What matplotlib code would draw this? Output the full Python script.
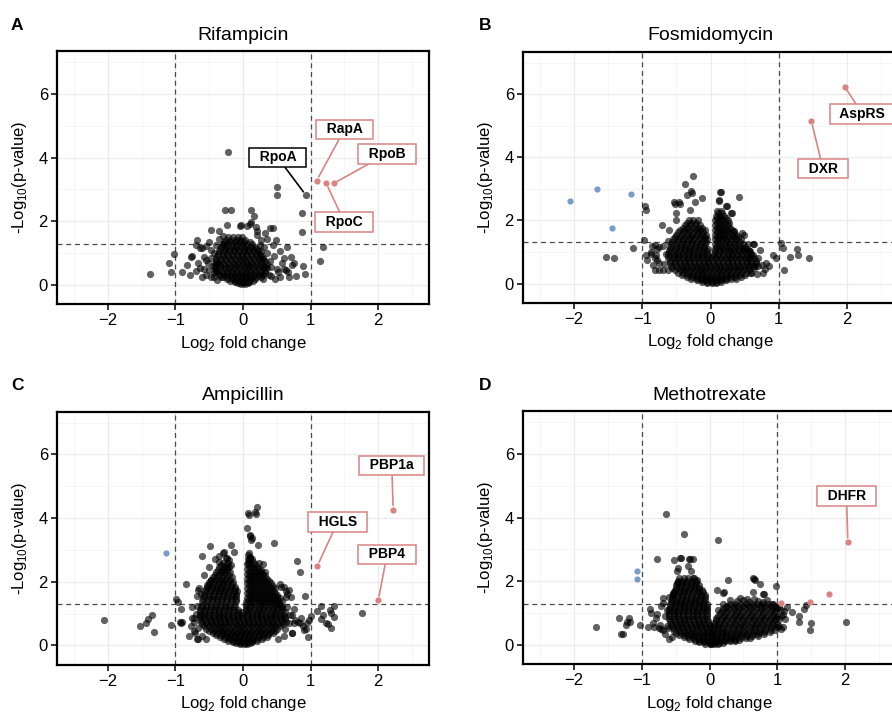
import numpy as np
import matplotlib.pyplot as plt

plt.rcParams['font.family'] = ['Liberation Sans', 'DejaVu Sans']
plt.rcParams['mathtext.fontset'] = 'custom'
plt.rcParams['mathtext.rm'] = 'Liberation Sans'

# ---- data: (log2 fold change, -log10 p) ----
# dense cores, one row per -log10(p) level
rif_core = [
    (1.50, [-0.22, -0.15, -0.08, -0.02]),
    (1.35, [-0.28, -0.20, -0.12, -0.05, 0.02, 0.10]),
    (1.20, [-0.32, -0.25, -0.17, -0.10, -0.03, 0.04, 0.12, 0.18]),
    (1.05, [-0.35, -0.28, -0.20, -0.13, -0.06, 0.01, 0.08, 0.15, 0.22]),
    (0.90, [-0.38, -0.30, -0.22, -0.15, -0.08, -0.01, 0.06, 0.13, 0.20, 0.27]),
    (0.75, [-0.40, -0.32, -0.24, -0.16, -0.09, -0.02, 0.05, 0.12, 0.19, 0.26, 0.33]),
    (0.60, [-0.42, -0.34, -0.26, -0.18, -0.10, -0.03, 0.04, 0.11, 0.18, 0.25, 0.32]),
    (0.45, [-0.40, -0.32, -0.24, -0.17, -0.10, -0.03, 0.04, 0.11, 0.18, 0.25, 0.32]),
    (0.30, [-0.34, -0.26, -0.19, -0.12, -0.05, 0.02, 0.09, 0.16, 0.23, 0.30]),
    (0.18, [-0.24, -0.17, -0.10, -0.03, 0.04, 0.11, 0.18]),
    (0.08, [-0.12, -0.05, 0.02, 0.09]),
    (0.02, [-0.03, 0.03]),
    (1.42, [-0.25, -0.18, -0.11, -0.04, 0.03]),
    (1.27, [-0.30, -0.23, -0.16, -0.09, -0.02, 0.06, 0.14]),
    (1.12, [-0.34, -0.27, -0.20, -0.13, -0.06, 0.01, 0.08, 0.15, 0.21]),
    (0.97, [-0.37, -0.30, -0.23, -0.16, -0.09, -0.02, 0.05, 0.12, 0.19, 0.25]),
    (0.82, [-0.40, -0.33, -0.26, -0.19, -0.12, -0.05, 0.02, 0.09, 0.16, 0.23, 0.30]),
    (0.67, [-0.42, -0.35, -0.28, -0.21, -0.14, -0.07, 0.00, 0.07, 0.14, 0.21, 0.28, 0.35]),
    (0.52, [-0.41, -0.34, -0.27, -0.20, -0.13, -0.06, 0.01, 0.08, 0.15, 0.22, 0.29, 0.36]),
    (0.37, [-0.37, -0.30, -0.23, -0.16, -0.09, -0.02, 0.05, 0.12, 0.19, 0.26, 0.33]),
    (0.24, [-0.30, -0.23, -0.16, -0.09, -0.02, 0.05, 0.12, 0.19, 0.26]),
    (0.13, [-0.19, -0.12, -0.05, 0.02, 0.09, 0.15]),
    (0.05, [-0.08, 0.00, 0.07]),
]
rif_pts = [
    (-1.37, 0.35), (-1.10, 0.68), (-1.02, 0.96), (-1.06, 0.42), (-0.90, 0.39), (-0.83, 0.63),
    (-0.77, 0.89), (-0.78, 0.31), (-0.68, 1.41), (-0.70, 1.26), (-0.60, 1.15), (-0.63, 0.52),
    (-0.60, 0.26), (-0.50, 1.36), (-0.48, 1.73), (-0.36, 1.70), (-0.23, 1.87), (-0.26, 2.34),
    (-0.18, 2.34), (-0.22, 4.17), (-0.04, 1.85), (0.06, 1.85), (0.12, 2.34), (0.16, 2.18),
    (0.12, 1.99), (0.19, 1.83), (0.40, 1.80), (0.45, 1.80), (0.49, 1.41), (0.51, 3.09),
    (0.50, 2.81), (0.93, 2.82), (0.87, 2.27), (0.87, 1.66), (0.65, 1.18), (0.31, 1.20),
    (0.36, 1.43), (0.46, 0.91), (0.61, 0.83), (0.71, 0.87), (0.76, 0.68), (0.88, 0.58),
    (0.91, 0.35), (0.78, 0.29), (0.63, 0.47), (0.51, 0.49), (0.58, 0.68), (1.18, 1.20),
    (1.14, 0.75), (0.32, 1.62), (0.26, 1.41), (0.21, 1.57), (-0.38, 0.68), (-0.43, 1.00),
    (-0.43, 0.37), (-0.33, 0.26), (-0.50, 0.47), (-0.58, 0.89), (-0.63, 1.15), (-0.76, 0.90),
    (-0.55, 0.79), (-0.58, 0.50), (-0.43, 0.26), (-0.55, 1.22), (-0.47, 1.10), (-0.40, 1.25),
    (-0.35, 1.45), (-0.52, 0.70), (-0.45, 0.60), (-0.48, 0.85), (-0.40, 0.45), (-0.55, 0.30),
    (-0.47, 0.25), (-0.66, 0.70), (-0.70, 0.45), (-0.38, 0.15), (-0.30, 1.55), (-0.30, 1.30),
    (0.35, 1.00), (0.40, 0.75), (0.33, 0.55), (0.42, 0.55), (0.38, 0.30), (0.47, 0.20),
    (0.55, 0.25), (0.68, 0.25), (0.30, 0.85), (0.25, 1.25), (0.45, 1.25), (0.55, 1.05),
    (0.72, 0.62), (0.20, 1.70), (0.27, 1.05), (0.30, 0.20), (-0.03, 1.87), (0.11, 1.92),
    (0.60, 0.50), (0.67, 0.40), (0.52, 0.40), (0.42, 0.29),
    (1.09, 3.28), (1.34, 3.19), (1.23, 3.19),
]

fos_core = [
    (2.00, [-0.32, -0.25, -0.18]),
    (1.85, [-0.38, -0.30, -0.23, -0.15]),
    (1.70, [-0.45, -0.37, -0.30, -0.22, -0.15, -0.08]),
    (1.55, [-0.50, -0.42, -0.35, -0.27, -0.20, -0.12, -0.06]),
    (1.40, [-0.55, -0.47, -0.40, -0.32, -0.25, -0.17, -0.10, -0.05]),
    (2.30, [0.10, 0.16]),
    (2.15, [0.08, 0.14, 0.20]),
    (2.00, [0.07, 0.13, 0.19, 0.25]),
    (1.85, [0.06, 0.12, 0.18, 0.25]),
    (1.70, [0.06, 0.12, 0.18, 0.24, 0.31]),
    (1.55, [0.06, 0.12, 0.18, 0.24, 0.31, 0.38]),
    (1.40, [0.06, 0.11, 0.17, 0.23, 0.30, 0.37, 0.44]),
    (1.25, [-0.58, -0.50, -0.43, -0.36, -0.29, -0.22, -0.15, -0.08, 0.07, 0.13, 0.20, 0.27,
            0.34, 0.41, 0.48]),
    (1.10, [-0.60, -0.52, -0.45, -0.38, -0.31, -0.24, -0.17, -0.10, -0.04, 0.06, 0.12, 0.19,
            0.26, 0.33, 0.40, 0.47, 0.54]),
    (0.95, [-0.62, -0.54, -0.47, -0.40, -0.33, -0.26, -0.19, -0.12, -0.05, 0.05, 0.11, 0.18,
            0.25, 0.32, 0.39, 0.46, 0.53, 0.60]),
    (0.80, [-0.62, -0.54, -0.47, -0.40, -0.33, -0.26, -0.19, -0.12, -0.05, 0.01, 0.08, 0.15,
            0.22, 0.29, 0.36, 0.43, 0.50, 0.57, 0.64]),
    (0.65, [-0.60, -0.52, -0.45, -0.38, -0.31, -0.24, -0.17, -0.10, -0.03, 0.04, 0.11, 0.18,
            0.25, 0.32, 0.39, 0.46, 0.53, 0.60, 0.67]),
    (0.50, [-0.56, -0.48, -0.41, -0.34, -0.27, -0.20, -0.13, -0.06, 0.01, 0.08, 0.15, 0.22,
            0.29, 0.36, 0.43, 0.50, 0.57, 0.64]),
    (0.35, [-0.48, -0.40, -0.33, -0.26, -0.19, -0.12, -0.05, 0.02, 0.09, 0.16, 0.23, 0.30,
            0.37, 0.44, 0.52, 0.60]),
    (0.22, [-0.35, -0.27, -0.20, -0.13, -0.06, 0.01, 0.08, 0.15, 0.22, 0.29, 0.36, 0.44]),
    (0.10, [-0.20, -0.13, -0.06, 0.01, 0.08, 0.15, 0.22]),
    (0.02, [-0.05, 0.02, 0.08]),
    (1.92, [-0.35, -0.28, -0.21]),
    (1.77, [-0.41, -0.34, -0.26, -0.19, -0.12]),
    (1.62, [-0.47, -0.40, -0.33, -0.26, -0.18, -0.11]),
    (1.47, [-0.52, -0.45, -0.38, -0.30, -0.23, -0.15, -0.08]),
    (2.22, [0.11, 0.17]),
    (2.07, [0.10, 0.16, 0.22]),
    (1.92, [0.09, 0.15, 0.21, 0.27]),
    (1.77, [0.09, 0.15, 0.21, 0.28]),
    (1.62, [0.09, 0.15, 0.21, 0.27, 0.34]),
    (1.47, [0.09, 0.14, 0.20, 0.27, 0.34, 0.41]),
    (1.32, [-0.56, -0.48, -0.41, -0.34, -0.27, -0.20, -0.13, -0.07, 0.09, 0.15, 0.22, 0.29,
            0.36, 0.43]),
    (1.17, [-0.59, -0.51, -0.44, -0.37, -0.30, -0.23, -0.16, -0.09, 0.08, 0.15, 0.22, 0.29,
            0.36, 0.43, 0.50]),
    (1.02, [-0.61, -0.53, -0.46, -0.39, -0.32, -0.25, -0.18, -0.11, -0.05, 0.07, 0.14, 0.21,
            0.28, 0.35, 0.42, 0.49, 0.56]),
    (0.87, [-0.61, -0.53, -0.46, -0.39, -0.32, -0.25, -0.18, -0.11, -0.04, 0.04, 0.11, 0.18,
            0.25, 0.32, 0.39, 0.46, 0.53, 0.60]),
    (0.72, [-0.60, -0.52, -0.45, -0.38, -0.31, -0.24, -0.17, -0.10, -0.03, 0.04, 0.11, 0.18,
            0.25, 0.32, 0.39, 0.46, 0.53, 0.60, 0.66]),
    (0.57, [-0.58, -0.50, -0.43, -0.36, -0.29, -0.22, -0.15, -0.08, -0.01, 0.06, 0.13, 0.20,
            0.27, 0.34, 0.41, 0.48, 0.55, 0.62]),
    (0.42, [-0.52, -0.44, -0.37, -0.30, -0.23, -0.16, -0.09, -0.02, 0.05, 0.12, 0.19, 0.26,
            0.33, 0.40, 0.48, 0.56]),
    (0.28, [-0.42, -0.34, -0.27, -0.20, -0.13, -0.06, 0.01, 0.08, 0.15, 0.22, 0.29, 0.36,
            0.43, 0.50]),
    (0.16, [-0.28, -0.20, -0.13, -0.06, 0.01, 0.08, 0.15, 0.22, 0.30, 0.38]),
    (0.06, [-0.12, -0.05, 0.02, 0.09, 0.15]),
]
fos_pts = [
    (-2.06, 2.61), (-1.67, 3.00), (-1.16, 2.85), (-1.44, 1.77),
    (1.97, 6.23), (1.48, 5.14),
    (-1.54, 0.84), (-1.42, 0.81), (-1.13, 1.13), (-0.96, 2.45), (-0.95, 2.32), (-0.98, 1.39),
    (-0.94, 0.92), (-0.93, 0.76), (-0.81, 0.42), (-0.69, 0.42), (-0.82, 0.81), (-0.71, 1.85),
    (-0.76, 1.16), (-0.86, 1.20), (-0.52, 2.51), (-0.45, 2.51), (-0.38, 3.16), (-0.25, 3.42),
    (-0.28, 2.92), (-0.27, 2.87), (-0.34, 2.82), (-0.13, 2.71), (-0.23, 2.57), (0.14, 2.89),
    (0.12, 2.63), (0.22, 2.45), (0.30, 2.24), (0.42, 2.74), (0.49, 1.55), (0.64, 1.26),
    (0.57, 1.02), (0.69, 0.55), (0.77, 0.32), (0.86, 0.55), (0.91, 0.92), (0.96, 0.81),
    (1.03, 1.28), (1.06, 1.13), (1.08, 0.42), (1.16, 0.84), (1.27, 1.10), (1.29, 0.89),
    (1.44, 0.81), (0.82, 0.65), (-0.54, 2.57), (-0.46, 2.57), (-0.51, 2.24), (-0.30, 2.32),
    (-0.50, 2.00), (-0.61, 1.71), (-0.78, 1.08), (-0.82, 1.22), (-0.87, 0.93), (-0.78, 0.76),
    (-0.75, 0.44), (-0.63, 0.44), (0.15, 2.90), (0.13, 2.64), (0.24, 2.45), (0.31, 2.24),
    (0.34, 1.67), (0.46, 1.60), (0.48, 1.11), (0.58, 1.02), (0.63, 1.26),
    (-0.88, 1.00), (-0.80, 0.90), (-0.75, 0.65), (-0.70, 1.20), (-0.66, 0.95), (-0.62, 1.35),
    (-0.68, 0.62), (-0.85, 0.60), (0.62, 0.90), (0.70, 0.80), (0.75, 0.60), (0.60, 0.35),
    (0.68, 0.30), (0.55, 1.25), (0.72, 1.05), (0.80, 0.45), (0.65, 0.55),
]

amp_core = [
    (2.60, [-0.30, -0.22]),
    (2.45, [-0.35, -0.28, -0.20]),
    (2.30, [-0.40, -0.33, -0.26, -0.19]),
    (2.15, [-0.45, -0.38, -0.31, -0.24, -0.17]),
    (2.00, [-0.50, -0.43, -0.36, -0.29, -0.22, -0.15]),
    (1.85, [-0.53, -0.46, -0.39, -0.32, -0.25, -0.18, -0.12]),
    (1.70, [-0.56, -0.49, -0.42, -0.35, -0.28, -0.21, -0.14, -0.09]),
    (1.55, [-0.58, -0.51, -0.44, -0.37, -0.30, -0.23, -0.16, -0.10]),
    (1.40, [-0.60, -0.53, -0.46, -0.39, -0.32, -0.25, -0.18, -0.11]),
    (2.85, [0.08]),
    (2.70, [0.07, 0.13]),
    (2.55, [0.06, 0.12, 0.18]),
    (2.40, [0.06, 0.12, 0.18, 0.24]),
    (2.25, [0.06, 0.12, 0.18, 0.24, 0.30]),
    (2.10, [0.06, 0.12, 0.18, 0.24, 0.30, 0.36]),
    (1.95, [0.06, 0.12, 0.18, 0.24, 0.30, 0.36, 0.42]),
    (1.80, [0.06, 0.12, 0.18, 0.24, 0.30, 0.36, 0.42, 0.48]),
    (1.65, [0.06, 0.12, 0.18, 0.24, 0.30, 0.36, 0.42, 0.48]),
    (1.50, [0.06, 0.12, 0.18, 0.24, 0.30, 0.36, 0.42, 0.48, 0.54]),
    (1.35, [0.05, 0.11, 0.17, 0.23, 0.29, 0.35, 0.41, 0.47, 0.53]),
    (1.20, [-0.62, -0.55, -0.48, -0.41, -0.34, -0.27, -0.20, -0.13, 0.05, 0.09, 0.16,
            0.23, 0.30, 0.37, 0.44, 0.51, 0.58]),
    (1.05, [-0.64, -0.57, -0.50, -0.43, -0.36, -0.29, -0.22, -0.15, -0.08, -0.01, 0.06, 0.13,
            0.20, 0.27, 0.34, 0.41, 0.48, 0.55, 0.62]),
    (0.90, [-0.64, -0.57, -0.50, -0.43, -0.36, -0.29, -0.22, -0.15, -0.08, -0.01, 0.06, 0.13,
            0.20, 0.27, 0.34, 0.41, 0.48, 0.55, 0.62]),
    (0.75, [-0.62, -0.55, -0.48, -0.41, -0.34, -0.27, -0.20, -0.13, -0.06, 0.01, 0.08, 0.15,
            0.22, 0.29, 0.36, 0.43, 0.50, 0.57, 0.64]),
    (0.60, [-0.57, -0.50, -0.43, -0.36, -0.29, -0.22, -0.15, -0.08, -0.01, 0.06, 0.13, 0.20,
            0.27, 0.34, 0.41, 0.48, 0.55]),
    (0.45, [-0.50, -0.43, -0.36, -0.29, -0.22, -0.15, -0.08, -0.01, 0.06, 0.13, 0.20, 0.27,
            0.34, 0.41, 0.48]),
    (0.32, [-0.40, -0.33, -0.26, -0.19, -0.12, -0.05, 0.02, 0.09, 0.16, 0.23, 0.30, 0.37]),
    (0.20, [-0.28, -0.21, -0.14, -0.07, 0.00, 0.07, 0.14, 0.21, 0.28]),
    (0.10, [-0.15, -0.08, -0.01, 0.06, 0.13]),
    (0.03, [-0.05, 0.01, 0.06]),
    (2.52, [-0.32, -0.25]),
    (2.37, [-0.37, -0.30, -0.23]),
    (2.22, [-0.42, -0.35, -0.28, -0.21]),
    (2.07, [-0.47, -0.40, -0.33, -0.26, -0.19]),
    (1.92, [-0.51, -0.44, -0.37, -0.30, -0.23, -0.16]),
    (1.77, [-0.54, -0.47, -0.40, -0.33, -0.26, -0.19, -0.12]),
    (1.62, [-0.57, -0.50, -0.43, -0.36, -0.29, -0.22, -0.15, -0.10]),
    (1.47, [-0.59, -0.52, -0.45, -0.38, -0.31, -0.24, -0.17, -0.10]),
    (2.77, [0.10]),
    (2.62, [0.09, 0.15]),
    (2.47, [0.09, 0.15, 0.21]),
    (2.32, [0.09, 0.15, 0.21, 0.27]),
    (2.17, [0.09, 0.15, 0.21, 0.27, 0.33]),
    (2.02, [0.09, 0.15, 0.21, 0.27, 0.33, 0.39]),
    (1.87, [0.09, 0.15, 0.21, 0.27, 0.33, 0.39, 0.45]),
    (1.72, [0.09, 0.15, 0.21, 0.27, 0.33, 0.39, 0.45]),
    (1.57, [0.09, 0.15, 0.21, 0.27, 0.33, 0.39, 0.45, 0.51]),
    (1.42, [0.08, 0.14, 0.20, 0.26, 0.32, 0.38, 0.44, 0.50]),
    (1.27, [-0.61, -0.54, -0.47, -0.40, -0.33, -0.26, -0.19, -0.12, 0.05, 0.12, 0.19, 0.26,
            0.33, 0.40, 0.47, 0.54]),
    (1.12, [-0.63, -0.56, -0.49, -0.42, -0.35, -0.28, -0.21, -0.14, -0.07, 0.04, 0.09, 0.16,
            0.23, 0.30, 0.37, 0.44, 0.51, 0.58]),
    (0.97, [-0.64, -0.57, -0.50, -0.43, -0.36, -0.29, -0.22, -0.15, -0.08, -0.01, 0.06, 0.13,
            0.20, 0.27, 0.34, 0.41, 0.48, 0.55, 0.61]),
    (0.82, [-0.63, -0.56, -0.49, -0.42, -0.35, -0.28, -0.21, -0.14, -0.07, 0.00, 0.07, 0.14,
            0.21, 0.28, 0.35, 0.42, 0.49, 0.56, 0.62]),
    (0.67, [-0.60, -0.53, -0.46, -0.39, -0.32, -0.25, -0.18, -0.11, -0.04, 0.03, 0.10, 0.17,
            0.24, 0.31, 0.38, 0.45, 0.52, 0.59]),
    (0.52, [-0.54, -0.47, -0.40, -0.33, -0.26, -0.19, -0.12, -0.05, 0.02, 0.09, 0.16, 0.23,
            0.30, 0.37, 0.44, 0.51]),
    (0.38, [-0.45, -0.38, -0.31, -0.24, -0.17, -0.10, -0.03, 0.04, 0.11, 0.18, 0.25, 0.32,
            0.39, 0.45]),
    (0.26, [-0.34, -0.27, -0.20, -0.13, -0.06, 0.01, 0.08, 0.15, 0.22, 0.29, 0.35]),
    (0.15, [-0.22, -0.15, -0.08, -0.01, 0.06, 0.13, 0.20]),
    (0.06, [-0.10, -0.03, 0.04, 0.10]),
]
amp_pts = [
    (2.22, 4.27), (1.10, 2.50), (2.00, 1.42), (-1.14, 2.91),
    (-2.06, 0.81), (-1.53, 0.61), (-1.44, 0.71), (-1.40, 0.84), (-1.35, 0.94), (-1.32, 0.42),
    (-1.07, 0.64), (-0.99, 1.45), (-0.96, 1.35), (-0.93, 0.72), (-0.90, 0.75), (-0.91, 1.13),
    (-0.85, 1.94), (-0.75, 0.87), (-0.77, 0.60), (-0.72, 0.45), (-0.68, 0.20), (-0.65, 1.80),
    (-0.60, 2.82), (-0.49, 3.13), (-0.36, 2.61), (-0.28, 2.92), (-0.24, 2.75), (-0.18, 3.14),
    (-0.13, 2.95), (0.21, 4.34), (0.09, 4.09), (0.19, 4.12), (0.06, 3.68), (0.10, 3.44),
    (0.12, 3.31), (0.22, 3.15), (0.46, 3.21), (0.09, 2.90), (0.09, 2.73), (0.29, 2.57),
    (0.80, 2.64), (0.84, 2.30), (0.92, 1.54), (0.56, 1.83), (0.63, 1.70), (0.71, 1.51),
    (0.75, 1.15), (0.76, 0.71), (0.88, 0.60), (0.93, 0.50), (1.18, 0.97), (1.23, 0.71),
    (1.30, 0.55), (1.35, 1.23), (1.35, 0.90), (1.28, 1.12), (1.76, 1.02), (0.96, 0.26),
    (0.98, 0.80), (0.95, 0.70), (0.86, 0.86), (0.82, 0.72),
    (-0.30, 2.89), (-0.25, 2.74), (-0.20, 2.68), (-0.31, 2.34), (-0.23, 2.42), (-0.18, 2.52),
    (-0.66, 1.75), (-0.68, 1.54), (-0.48, 2.07), (-0.53, 1.91), (-0.92, 0.71), (-0.73, 0.87),
    (-0.71, 0.40), (-0.66, 0.20), (0.11, 3.48), (0.14, 3.38), (0.08, 4.15), (0.18, 4.20),
    (0.11, 2.74), (0.08, 2.58), (0.24, 2.58), (0.27, 2.37), (0.32, 2.32), (0.55, 1.94),
    (0.60, 1.84), (0.65, 1.63), (0.63, 1.52), (0.68, 1.73), (0.50, 1.52), (0.52, 1.31),
    (0.58, 1.21), (0.73, 0.95), (0.77, 0.80), (0.85, 0.70), (0.90, 0.49), (0.73, 0.39),
    (1.00, 0.92), (1.10, 1.08), (1.15, 1.23), (1.15, 0.82), (1.25, 0.66), (1.30, 1.03),
    (-0.80, 0.30), (-0.70, 1.00), (-0.68, 1.25), (-0.72, 0.75), (-0.66, 0.55), (-0.60, 0.30),
    (-0.55, 0.20), (-0.75, 1.20), (0.65, 1.20), (0.70, 0.95), (0.62, 0.50), (0.68, 0.70),
    (0.60, 0.30), (0.52, 0.20), (0.72, 0.40), (0.58, 1.40), (-0.62, 1.60), (-0.57, 2.20),
    (-0.50, 2.45), (-0.42, 2.70), (-0.35, 2.80),
]

mtx_core = [
    (2.10, [-0.45, -0.38, -0.31, -0.24]),
    (1.95, [-0.48, -0.41, -0.34, -0.27, -0.20]),
    (1.80, [-0.50, -0.43, -0.36, -0.29, -0.22, -0.15]),
    (1.65, [-0.52, -0.45, -0.38, -0.31, -0.24, -0.17, -0.10]),
    (1.50, [-0.55, -0.48, -0.41, -0.34, -0.27, -0.20, -0.13, -0.07]),
    (1.35, [-0.57, -0.50, -0.43, -0.36, -0.29, -0.22, -0.15, -0.08]),
    (1.20, [-0.58, -0.51, -0.44, -0.37, -0.30, -0.23, -0.16, -0.09, -0.03]),
    (1.05, [-0.60, -0.53, -0.46, -0.39, -0.32, -0.25, -0.18, -0.11, -0.04]),
    (0.90, [-0.60, -0.53, -0.46, -0.39, -0.32, -0.25, -0.18, -0.11, -0.04]),
    (0.75, [-0.58, -0.51, -0.44, -0.37, -0.30, -0.23, -0.16, -0.09, -0.02]),
    (0.60, [-0.55, -0.48, -0.41, -0.34, -0.27, -0.20, -0.13, -0.06, 0.00]),
    (0.45, [-0.52, -0.45, -0.38, -0.31, -0.24, -0.17, -0.10, -0.03]),
    (0.30, [-0.45, -0.38, -0.31, -0.24, -0.17, -0.10, -0.03]),
    (0.18, [-0.30, -0.23, -0.16, -0.09, -0.02]),
    (0.08, [-0.15, -0.08, -0.01]),
    (2.02, [-0.47, -0.40, -0.33, -0.26, -0.20]),
    (1.87, [-0.49, -0.42, -0.35, -0.28, -0.21, -0.16]),
    (1.72, [-0.51, -0.44, -0.37, -0.30, -0.23, -0.16, -0.11]),
    (1.57, [-0.54, -0.47, -0.40, -0.33, -0.26, -0.19, -0.12, -0.07]),
    (1.42, [-0.56, -0.49, -0.42, -0.35, -0.28, -0.21, -0.14, -0.07]),
    (1.27, [-0.58, -0.51, -0.44, -0.37, -0.30, -0.23, -0.16, -0.09, -0.04]),
    (1.12, [-0.59, -0.52, -0.45, -0.38, -0.31, -0.24, -0.17, -0.10, -0.04]),
    (0.97, [-0.60, -0.53, -0.46, -0.39, -0.32, -0.25, -0.18, -0.11, -0.04]),
    (0.82, [-0.59, -0.52, -0.45, -0.38, -0.31, -0.24, -0.17, -0.10, -0.03]),
    (0.67, [-0.57, -0.50, -0.43, -0.36, -0.29, -0.22, -0.15, -0.08, -0.01]),
    (0.52, [-0.54, -0.47, -0.40, -0.33, -0.26, -0.19, -0.12, -0.05, 0.01]),
    (0.37, [-0.49, -0.42, -0.35, -0.28, -0.21, -0.14, -0.07, 0.00]),
    (0.24, [-0.38, -0.31, -0.24, -0.17, -0.10, -0.03]),
    (0.13, [-0.22, -0.15, -0.08, -0.01]),
    (0.03, [-0.06, 0.00]),
    (1.30, [0.30, 0.38, 0.46, 0.54, 0.62, 0.70, 0.78, 0.86, 0.94]),
    (1.15, [0.20, 0.28, 0.36, 0.44, 0.52, 0.60, 0.68, 0.76, 0.84, 0.92, 0.99]),
    (1.00, [0.15, 0.23, 0.31, 0.39, 0.47, 0.55, 0.63, 0.71, 0.79, 0.87, 0.95]),
    (0.85, [0.10, 0.18, 0.26, 0.34, 0.42, 0.50, 0.58, 0.66, 0.74, 0.82, 0.90, 0.98]),
    (0.70, [0.07, 0.14, 0.22, 0.30, 0.38, 0.46, 0.54, 0.62, 0.70, 0.78, 0.86, 0.94]),
    (0.55, [0.05, 0.12, 0.19, 0.27, 0.35, 0.43, 0.51, 0.59, 0.67, 0.75, 0.83, 0.91, 0.99]),
    (0.40, [0.04, 0.11, 0.18, 0.25, 0.33, 0.41, 0.49, 0.57, 0.65, 0.73, 0.81, 0.89]),
    (0.28, [0.03, 0.10, 0.17, 0.24, 0.31, 0.39, 0.47, 0.55, 0.63, 0.71]),
    (0.16, [0.03, 0.09, 0.16, 0.23, 0.30, 0.37, 0.44]),
    (0.06, [0.02, 0.08, 0.14, 0.20]),
    (1.22, [0.26, 0.34, 0.42, 0.50, 0.58, 0.66, 0.74, 0.82, 0.90, 0.97]),
    (1.07, [0.18, 0.26, 0.34, 0.42, 0.50, 0.58, 0.66, 0.74, 0.82, 0.90, 0.98]),
    (0.92, [0.13, 0.21, 0.29, 0.37, 0.45, 0.53, 0.61, 0.69, 0.77, 0.85, 0.93, 1.00]),
    (0.77, [0.09, 0.17, 0.25, 0.33, 0.41, 0.49, 0.57, 0.65, 0.73, 0.81, 0.89, 0.97]),
    (0.62, [0.06, 0.13, 0.21, 0.29, 0.37, 0.45, 0.53, 0.61, 0.69, 0.77, 0.85, 0.93]),
    (0.47, [0.05, 0.12, 0.19, 0.26, 0.34, 0.42, 0.50, 0.58, 0.66, 0.74, 0.82, 0.90, 0.96]),
    (0.34, [0.04, 0.11, 0.18, 0.25, 0.32, 0.40, 0.48, 0.56, 0.64, 0.72, 0.80]),
    (0.22, [0.03, 0.10, 0.17, 0.24, 0.31, 0.38, 0.46, 0.54, 0.60]),
    (0.11, [0.03, 0.09, 0.16, 0.23, 0.30, 0.37]),
    (0.03, [0.02, 0.07, 0.12]),
]
mtx_pts = [
    (2.04, 3.23), (1.76, 1.59), (1.48, 1.36), (1.06, 1.33), (-1.07, 2.32), (-1.07, 2.08),
    (-0.64, 4.12), (-0.37, 3.47), (0.12, 3.31), (-0.78, 2.69), (-0.52, 2.66), (-0.42, 2.72),
    (-0.47, 2.42), (-0.30, 2.69), (-0.24, 2.69), (0.27, 2.03), (0.64, 2.11), (0.67, 2.04),
    (0.74, 1.90), (0.81, 1.61), (0.98, 1.85), (0.11, 1.72), (0.20, 1.62), (-1.67, 0.56),
    (-1.33, 0.84), (-1.21, 0.73), (-1.23, 0.63), (-1.30, 0.34), (-1.28, 0.34), (-1.03, 0.63),
    (-0.90, 0.57), (-0.86, 1.01), (-0.79, 0.83), (-0.82, 0.55), (-0.75, 0.52), (-0.69, 0.47),
    (-0.69, 1.33), (-0.54, 1.59), (2.02, 0.73), (1.48, 0.46), (1.50, 0.70), (1.32, 0.91),
    (1.32, 0.73), (1.21, 1.02), (1.40, 1.14), (1.43, 1.24), (0.99, 0.65), (1.05, 1.10),
    (1.08, 0.95), (1.03, 0.80), (1.06, 0.50), (1.15, 1.20),
    (-0.43, 2.72), (-0.48, 2.31), (-0.29, 2.69), (-0.32, 2.47), (-0.28, 2.31), (-0.23, 2.10),
    (-0.18, 2.05), (-0.47, 1.99), (0.21, 1.67), (0.65, 2.07), (0.64, 1.66), (0.79, 1.61),
    (0.79, 1.35), (0.45, 1.48), (0.55, 1.44), (-0.88, 1.12), (-0.78, 0.96), (-0.71, 1.22),
    (-0.68, 1.48), (-0.54, 1.64), (-1.19, 0.84), (-1.17, 0.72), (-0.83, 0.70), (-0.73, 0.64),
    (-0.61, 0.54), (-0.71, 0.49),
    (0.30, 1.40), (0.40, 1.38), (0.50, 1.42), (0.58, 1.36), (0.65, 1.45), (0.72, 1.38),
    (0.85, 1.42), (0.92, 1.30), (0.97, 1.20), (0.20, 1.30), (0.25, 1.20), (0.12, 1.10),
    (-0.65, 0.35), (-0.60, 0.20), (-0.55, 0.25), (-0.62, 0.60), (-0.65, 0.90), (-0.63, 1.10),
    (-0.60, 1.50), (1.02, 1.20), (1.05, 0.90), (1.10, 1.05), (1.12, 0.80), (1.02, 0.60),
    (1.08, 0.55),
]

# labelled proteins: (name, lfc, -log10 p, label x, label y)
rif_labels = [('RapA', 1.09, 3.28, 1.50, 4.89), ('RpoB', 1.34, 3.19, 2.13, 4.12),
              ('RpoC', 1.23, 3.19, 1.50, 1.97), ('RpoA', 0.93, 2.82, 0.51, 4.01)]
fos_labels = [('AspRS', 1.97, 6.23, 2.23, 5.37), ('DXR', 1.48, 5.14, 1.65, 3.64)]
amp_labels = [('PBP1a', 2.22, 4.27, 2.20, 5.66), ('HGLS', 1.10, 2.50, 1.40, 3.88),
              ('PBP4', 2.00, 1.42, 2.13, 2.86)]
mtx_labels = [('DHFR', 2.04, 3.23, 2.02, 4.68)]

fc_cut = 1.0
p_cut = 0.05

grey = 'black'
red = '#D98383'
blue = '#7B9CC8'

W, H = 892, 717
fig = plt.figure(figsize=(W / 100, H / 100), dpi=100)

# axes boxes in pixels: left, top, right, bottom
panels = [
    ('A', 'Rifampicin', rif_core, rif_pts, rif_labels, (57, 51, 429, 304)),
    ('B', 'Fosmidomycin', fos_core, fos_pts, fos_labels, (523, 51.5, 898, 302.5)),
    ('C', 'Ampicillin', amp_core, amp_pts, amp_labels, (57, 411.5, 429, 664.5)),
    ('D', 'Methotrexate', mtx_core, mtx_pts, mtx_labels, (523, 411, 896, 664)),
]

p_line = -np.log10(p_cut)

for letter, title, core, pts, labels, (l, t, r, b) in panels:
    ax = fig.add_axes([l / W, 1 - b / H, (r - l) / W, (b - t) / H])

    lfc = [x for y, xs in core for x in xs] + [p[0] for p in pts]
    nlp = [y for y, xs in core for x in xs] + [p[1] for p in pts]
    lfc = np.array(lfc)
    nlp = np.array(nlp)
    up = (lfc > fc_cut) & (nlp > p_line)
    down = (lfc < -fc_cut) & (nlp > p_line)
    ns = ~(up | down)

    ax.scatter(lfc[ns], nlp[ns], s=27, color=grey, alpha=0.62, lw=0, zorder=3)
    ax.scatter(lfc[up], nlp[up], s=20, color=red, lw=0, zorder=4)
    ax.scatter(lfc[down], nlp[down], s=20, color=blue, lw=0, zorder=4)

    for v in (-fc_cut, fc_cut):
        ax.axvline(v, color='#4A4A4A', lw=0.9, ls=(0, (4, 3)), zorder=2)
    ax.axhline(p_line, color='#4A4A4A', lw=0.9, ls=(0, (4, 3)), zorder=2)

    for name, x, y, bx, by in labels:
        col = red if (abs(x) > fc_cut and y > p_line) else 'black'
        ax.annotate('  ' + name + '  ', xy=(x, y), xytext=(bx, by),
                    ha='center', va='center', fontsize=10, fontweight='bold',
                    bbox=dict(boxstyle='square,pad=0.2', fc='white', ec=col, lw=1.1),
                    arrowprops=dict(arrowstyle='-', color=col, lw=1.2,
                                    shrinkA=0, shrinkB=3),
                    zorder=6)

    ax.set_xlim(-2.75, 2.75)
    ax.set_ylim(-0.6, 7.35)
    ax.set_xticks([-2, -1, 0, 1, 2])
    ax.set_yticks([0, 2, 4, 6])
    ax.set_xticks([-2.5, -1.5, -0.5, 0.5, 1.5, 2.5], minor=True)
    ax.set_yticks([1, 3, 5, 7], minor=True)
    ax.grid(which='major', color='#EBEBEB', lw=0.9)
    ax.grid(which='minor', color='#F4F4F4', lw=0.6)
    ax.set_axisbelow(True)
    ax.tick_params(which='major', direction='out', length=4, width=1.1,
                   color='black', labelsize=12, pad=2.5)
    ax.tick_params(which='minor', length=0)
    for sp in ax.spines.values():
        sp.set_linewidth(1.6)
        sp.set_color('black')

    ax.set_title(title, fontsize=14, pad=8)
    ax.set_xlabel('Log$_{\\mathregular{2}}$ fold change', fontsize=12, labelpad=4)
    ax.set_ylabel('-Log$_{\\mathregular{10}}$(p-value)', fontsize=12, labelpad=7)

    lx = 17 if l < 300 else 485
    ly = 25 if t < 300 else 386
    fig.text(lx / W, 1 - ly / H, letter, fontsize=12.5, fontweight='bold',
             ha='center', va='center')

fig.savefig('out.png', dpi=100)
